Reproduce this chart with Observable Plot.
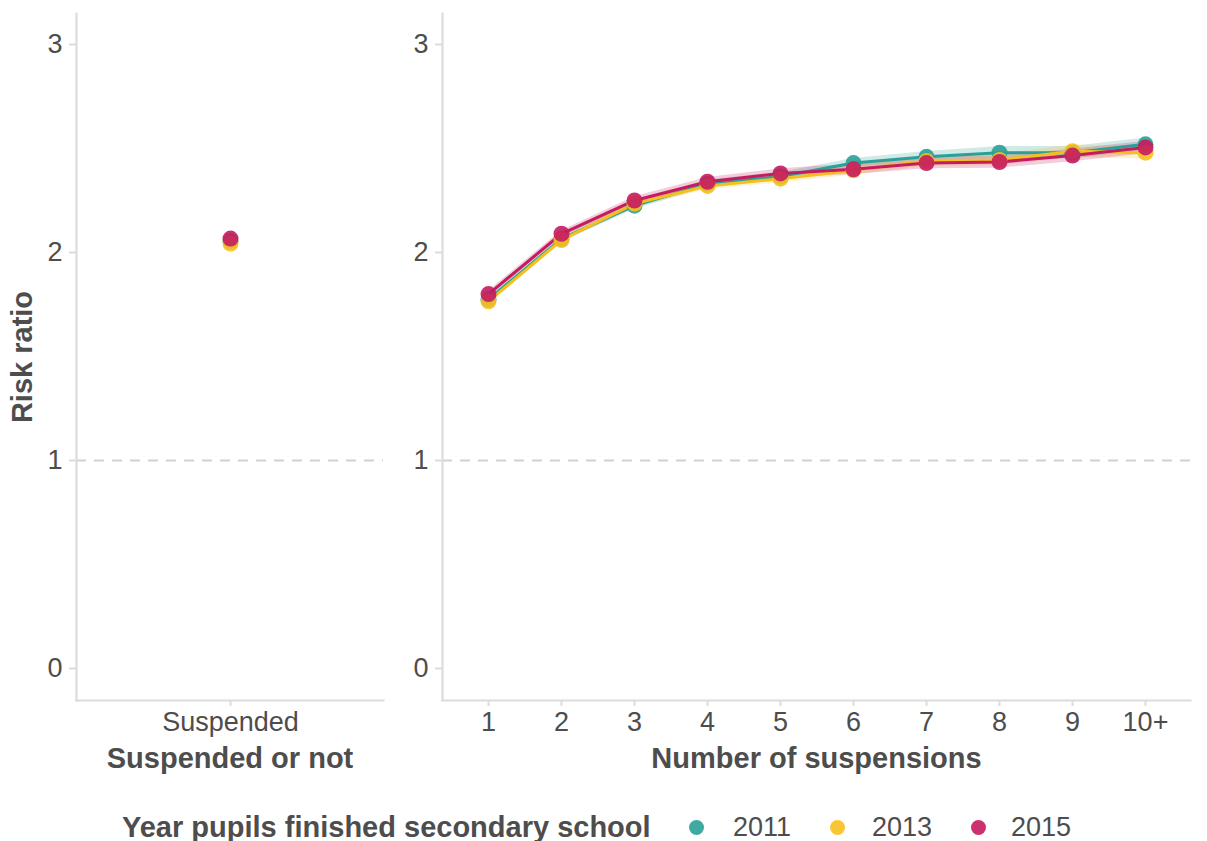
<!DOCTYPE html>
<html>
<head>
<meta charset="utf-8">
<script src="https://cdn.jsdelivr.net/npm/d3@7"></script>
<script src="https://cdn.jsdelivr.net/npm/@observablehq/plot@0.6"></script>
<style>
  html, body { margin: 0; padding: 0; background: #ffffff; }
  #chart { position: relative; width: 1207px; height: 841px; font-family: "Liberation Sans", Arial, sans-serif; color: #4d4d4d; }
  #left, #right { position: absolute; top: 0; }
  #left { left: 0; }
  #right { left: 383px; }
  #legend { position: absolute; top: 0; left: 0; width: 1207px; height: 841px; pointer-events: none; }
  #legend .title { position: absolute; left: 122px; top: 811px; font-weight: bold; font-size: 29px; line-height: 32px; }
  #legend .dot { position: absolute; top: 820px; width: 15px; height: 15px; border-radius: 50%; opacity: 0.9; }
  #legend .lab { position: absolute; top: 811px; font-size: 27px; line-height: 32px; }
</style>
</head>
<body>
<div id="chart">
  <div id="left"></div>
  <div id="right"></div>
  <div id="legend"></div>
</div>
<script>
// Risk ratios by year pupils finished secondary school
const years = ["2011", "2013", "2015"];
const colours = ["#2aa198", "#f7bf1e", "#c51b5f"];

// Any suspension vs none
const suspendedCategory = ["Suspended"];
const suspendedRatio = [2.055, 2.043, 2.067];

// By number of suspensions
const suspensionCounts = ["1", "2", "3", "4", "5", "6", "7", "8", "9", "10+"];
const ratio2011 = [1.775, 2.065, 2.225, 2.330, 2.365, 2.430, 2.460, 2.480, 2.480, 2.520];
const ratio2013 = [1.765, 2.060, 2.235, 2.320, 2.355, 2.395, 2.440, 2.445, 2.487, 2.480];
const ratio2015 = [1.800, 2.090, 2.250, 2.340, 2.380, 2.400, 2.430, 2.435, 2.466, 2.505];
// Half-widths of the confidence bands
const ci2011 = [0.015, 0.015, 0.018, 0.018, 0.020, 0.022, 0.025, 0.030, 0.030, 0.030];
const ci2013 = [0.015, 0.015, 0.018, 0.018, 0.020, 0.022, 0.025, 0.028, 0.030, 0.030];
const ci2015 = [0.015, 0.015, 0.018, 0.020, 0.022, 0.025, 0.028, 0.030, 0.030, 0.030];

const seriesRatios = [ratio2011, ratio2013, ratio2015];
const seriesCi = [ci2011, ci2013, ci2015];

const counts = years.flatMap((year, s) =>
  suspensionCounts.map((n, i) => ({
    year, n,
    ratio: seriesRatios[s][i],
    lo: seriesRatios[s][i] - seriesCi[s][i],
    hi: seriesRatios[s][i] + seriesCi[s][i]
  }))
);
const anySuspension = years.map((year, s) => ({year, cat: suspendedCategory[0], ratio: suspendedRatio[s]}));

const axisGrey = "#dcdcdc";
const textGrey = "#4d4d4d";
const colorScale = {domain: years, range: colours};

function panel({width, marginLeft, marginRight, xDomain, marks, xTitle, yTitle}) {
  return Plot.plot({
    width,
    height: 780,
    marginTop: 13,
    marginBottom: 80,
    marginLeft,
    marginRight,
    style: {fontFamily: "Liberation Sans, Arial, sans-serif", fontSize: "27px", color: textGrey, background: "transparent", overflow: "visible"},
    x: {type: "point", domain: xDomain, padding: 0.6},
    y: {domain: [-0.154, 3.149]},
    color: colorScale,
    marks: [
      Plot.ruleY([1], {stroke: "#d2d2d2", strokeWidth: 2, strokeDasharray: "10,8"}),
      ...marks,
      Plot.frame({anchor: "left", stroke: axisGrey, strokeWidth: 2.2}),
      Plot.frame({anchor: "bottom", stroke: axisGrey, strokeWidth: 2.2}),
      Plot.axisY({ticks: [0, 1, 2, 3], tickFormat: d3.format("d"), tickSize: 7, tickPadding: 7, stroke: axisGrey, strokeWidth: 2, fill: textGrey, label: null}),
      Plot.axisX({tickSize: 6, tickPadding: 5, stroke: axisGrey, strokeWidth: 2, fill: textGrey, label: null}),
      Plot.text([xTitle], {frameAnchor: "bottom", dy: 67, fontWeight: "bold", fontSize: 29, fill: textGrey}),
      ...(yTitle ? [Plot.text([yTitle], {frameAnchor: "left", textAnchor: "middle", dx: -54, rotate: -90, fontWeight: "bold", fontSize: 29, fill: textGrey})] : [])
    ]
  });
}

const left = panel({
  width: 383,
  marginLeft: 76,
  marginRight: 0,
  xDomain: suspendedCategory,
  xTitle: "Suspended or not",
  yTitle: "Risk ratio",
  marks: [
    Plot.dot(anySuspension, {x: "cat", y: "ratio", fill: "year", r: 8, fillOpacity: 0.9})
  ]
});

const right = panel({
  width: 824,
  marginLeft: 59,
  marginRight: 17,
  xDomain: suspensionCounts,
  xTitle: "Number of suspensions",
  marks: [
    Plot.areaY(counts, {x: "n", y1: "lo", y2: "hi", fill: "year", z: "year", fillOpacity: 0.22}),
    Plot.line(counts, {x: "n", y: "ratio", stroke: "year", z: "year", strokeWidth: 3}),
    Plot.dot(counts, {x: "n", y: "ratio", fill: "year", r: 8, fillOpacity: 0.9})
  ]
});

document.getElementById("left").appendChild(left);
document.getElementById("right").appendChild(right);

// Legend below both panels
const legend = d3.select("#legend");
legend.append("div").attr("class", "title").text("Year pupils finished secondary school");
const dotCentres = [696, 837, 978];
const labelStarts = [733, 872, 1011];
years.forEach((year, i) => {
  legend.append("div").attr("class", "dot")
    .style("left", (dotCentres[i] - 7.5) + "px")
    .style("background", colours[i]);
  legend.append("div").attr("class", "lab")
    .style("left", labelStarts[i] + "px")
    .text(year);
});
</script>
</body>
</html>
